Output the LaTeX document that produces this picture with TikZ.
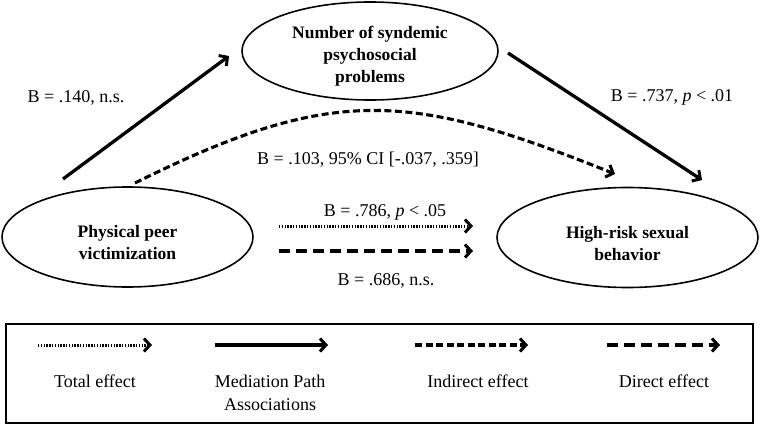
\documentclass[tikz,border=0pt]{standalone}
\usepackage{fontspec}
\setmainfont{Liberation Serif}
\usetikzlibrary{arrows.meta,shapes.geometric}
\begin{document}
\begin{tikzpicture}[x=1pt,y=-1pt,
  ell/.style={draw, ellipse, line width=1.6pt, inner sep=0pt},
  elltext/.style={align=center, inner sep=0pt, font=\fontsize{17.5}{22}\selectfont\bfseries},
  lab/.style={font=\fontsize{18}{22}\selectfont, inner sep=0pt},
  leg/.style={font=\fontsize{18}{23}\selectfont, align=center, inner sep=0pt},
  tipstyle/.style={-{Straight Barb[length=6pt,width=13pt,line width=3pt]}},
  solidarr/.style={line width=3.3pt, tipstyle},
  dotarr/.style={line width=3pt, dash pattern=on 1.3pt off 1.5pt, tipstyle},
  indarr/.style={line width=3.1pt, dash pattern=on 7pt off 3.5pt, tipstyle},
  dirarr/.style={line width=3.1pt, dash pattern=on 11pt off 6pt, tipstyle}]
\useasboundingbox (0,0) rectangle (761,428);

% main nodes
\node[ell, minimum width=256pt, minimum height=98pt] (ns) at (370,51) {};
\node[ell, minimum width=251pt, minimum height=100pt] (pv) at (127.5,237) {};
\node[ell, minimum width=261pt, minimum height=100pt] (hr) at (627.5,237.5) {};
\node[elltext] (nst) at ([yshift=-5pt]ns.center) {Number of syndemic\\psychosocial\\problems};
\node[elltext] (pvt) at ([yshift=-6pt]pv.center) {Physical peer\\victimization};
\node[elltext] (hrt) at ([yshift=-6pt]hr.center) {High-risk sexual\\behavior};

% connector ends
\coordinate (a1s) at (63,179);  \coordinate (a1e) at (229,56);
\coordinate (a2s) at (508,53);  \coordinate (a2e) at (702,180);
\coordinate (cs)  at (135,183); \coordinate (ce)  at (615,174);
\coordinate (ts)  at (279,226); \coordinate (te)  at (473,226);
\coordinate (ds)  at (279,251); \coordinate (de)  at (473,251);

\draw[solidarr] (a1s) -- (a1e);
\draw[solidarr] (a2s) -- (a2e);
\draw[indarr] (cs) .. controls (334,84) and (410,92) .. (ce);
\draw[dotarr] (ts) -- (te);
\draw[dirarr] (ds) -- (de);

% labels
\node[lab] (l1) at (76,98) {B = .140, n.s.};
\node[lab] (l2) at (672,97) {B = .737, \textit{p} < .01};
\node[lab] (l3) at (368,160) {B = .103, 95\% CI [-.037, .359]};
\node[lab] (l4) at (385,212) {B = .786, \textit{p} < .05};
\node[lab] (l5) at (386,281) {B = .686, n.s.};

% legend
\node[draw, line width=1.8pt, minimum width=747pt, minimum height=99pt, inner sep=0pt] (legend) at (379.5,373.5) {};
\coordinate (g1s) at (38,345);  \coordinate (g1e) at (152,345);
\coordinate (g2s) at (215,345); \coordinate (g2e) at (328,345);
\coordinate (g3s) at (415,345); \coordinate (g3e) at (528,345);
\coordinate (g4s) at (607,345); \coordinate (g4e) at (720,345);
\draw[dotarr] (g1s) -- (g1e);
\draw[solidarr] (g2s) -- (g2e);
\draw[indarr] (g3s) -- (g3e);
\draw[dirarr] (g4s) -- (g4e);
\node[leg] (t1) at (95,381) {Total effect};
\node[leg] (t2) at (270,392.5) {Mediation Path\\Associations};
\node[leg] (t3) at (478,381) {Indirect effect};
\node[leg] (t4) at (664,381) {Direct effect};
\end{tikzpicture}
\end{document}
